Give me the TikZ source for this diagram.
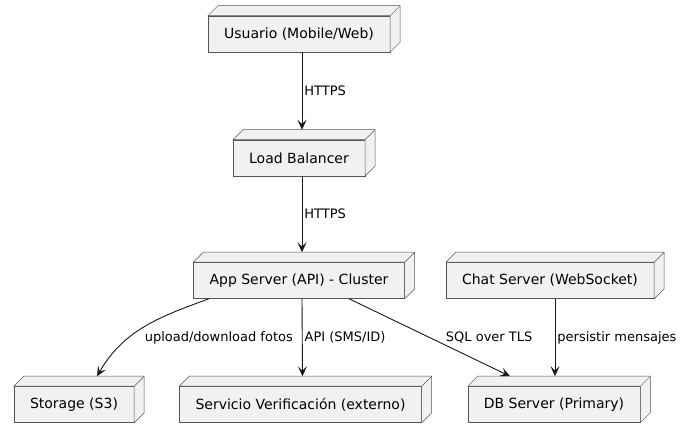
\documentclass[tikz,border=0pt]{standalone}
\usepackage{fontspec}
\setmainfont{DejaVu Sans}
\usetikzlibrary{arrows.meta}

\definecolor{boxfill}{HTML}{F1F1F1}
\definecolor{edge}{HTML}{181818}
\definecolor{boxline}{HTML}{555555}

\tikzset{
  server/.style={draw=boxline, fill=boxfill, line width=0.5pt, minimum height=36pt,
    inner xsep=16pt, inner ysep=0pt, font=\fontsize{14}{16}\selectfont},
  face/.style={draw=boxline, fill=boxfill, line width=0.5pt, line join=round},
  link/.style={draw=edge, line width=0.9pt, -{Stealth[length=10pt,width=9pt,inset=4.5pt]}},
  lbl/.style={font=\fontsize{13}{15}\selectfont, inner sep=2pt}
}

\begin{document}
\begin{tikzpicture}[x=1pt, y=1pt]
        \useasboundingbox (0,0) rectangle (683,438);
        \fill[white] (0,0) rectangle (683,438);
        % front faces
        \node[server] (user) at (299,404) {Usuario (Mobile/Web)};
        \node[server] (lb) at (299,280) {Load Balancer};
        \node[server] (app) at (299,157.5) {App Server (API) - Cluster};
        \node[server] (chat) at (550,157.5) {Chat Server (WebSocket)};
        \node[server] (sto) at (74,33.5) {Storage (S3)};
        \node[server] (ver) at (300.5,33.5) {Servicio Verificación (externo)};
        \node[server] (db) at (554,33.5) {DB Server (Primary)};
        % top and right faces
        \foreach \n in {user,lb,app,chat,sto,ver,db} {
          \path[face] (\n.north west) -- ++(10,10) -- ([shift={(10,10)}]\n.north east)
            -- ([shift={(10,10)}]\n.south east) -- (\n.south east) -- (\n.north east) -- cycle;
          \draw[face, fill=none] (\n.north east) -- ++(10,10);
        }
        % links
        \draw[link] ([xshift=3]user.south) -- node[lbl, right] {HTTPS} ([shift={(3,10)}]lb.north);
        \draw[link] ([xshift=3]lb.south) -- node[lbl, right] {HTTPS} ([shift={(3,10)}]app.north);
        \draw[link] ([xshift=-90]app.south) to[out=200, in=60] ([shift={(23,10)}]sto.north);
        \node[lbl, anchor=east] (upl) at (295,100) {upload/download fotos};
        \draw[link] ([xshift=3]app.south) -- node[lbl, right] {API (SMS/ID)} ([shift={(2,10)}]ver.north);
        \draw[link] ([xshift=50]app.south) -- node[lbl, right=14pt] {SQL over TLS} ([shift={(-44,10)}]db.north);
        \draw[link] ([xshift=5]chat.south) -- node[lbl, right] {persistir mensajes} ([shift={(1,10)}]db.north);
\end{tikzpicture}
\end{document}
